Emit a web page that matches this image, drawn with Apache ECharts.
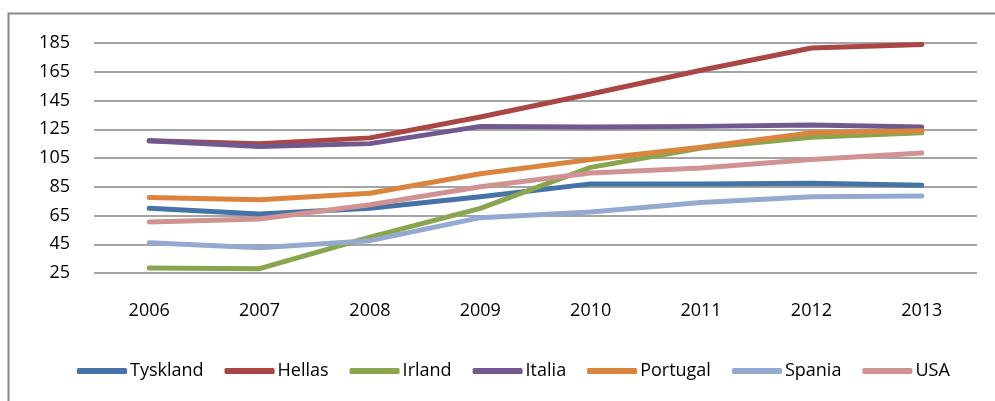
<!DOCTYPE html>
<html>
<head>
<meta charset="UTF-8">
<title></title>
<script src="https://cdn.jsdelivr.net/npm/echarts@6/dist/echarts.min.js"></script>
<style>
  html, body { margin: 0; padding: 0; background: #fff; }
  #main { width: 995px; height: 401px; }
</style>
</head>
<body>
<div id="main"></div>
<script>
var years = ['2006', '2007', '2008', '2009', '2010', '2011', '2012', '2013'];
var tyskland = [70, 66, 70, 78, 87, 87, 87.5, 86];
var hellas = [117, 115, 119, 133.5, 149.5, 166, 181.5, 184];
var irland = [28.5, 28, 50, 70, 98.5, 112, 119.5, 122.5];
var italia = [117, 113, 115, 127, 126.5, 127, 128, 126.5];
var portugal = [77.5, 76, 80.5, 94, 104, 112.5, 122.5, 124];
var spania = [46, 42.5, 47.5, 63.5, 67.5, 74, 78, 78.5];
var usa = [60.5, 62.5, 72.5, 85, 94.5, 98, 104, 108.5];

var names = ['Tyskland', 'Hellas', 'Irland', 'Italia', 'Portugal', 'Spania', 'USA'];
var values = [tyskland, hellas, irland, italia, portugal, spania, usa];
var colors = ['#4572A7', '#AA4643', '#89A54E', '#71588F', '#DB843D', '#93A9CF', '#D19392'];

var font = 'Open Sans';
var chart = echarts.init(document.getElementById('main'));

var series = [];
for (var i = 0; i < names.length; i++) {
  series.push({
    name: names[i],
    type: 'line',
    data: values[i],
    symbol: 'none',
    lineStyle: { width: 5, color: colors[i], cap: 'round', join: 'round' },
    itemStyle: { color: colors[i] }
  });
}

chart.setOption({
  animation: false,
  graphic: [{
    type: 'rect',
    shape: { x: 8.5, y: 13.5, width: 1000, height: 400 },
    style: { fill: 'none', stroke: '#8a8a8a', lineWidth: 2 }
  }],
  grid: { left: 94, right: 18, top: 43, bottom: 128 },
  legend: {
    bottom: 16,
    left: 72,
    icon: 'roundRect',
    itemWidth: 50,
    itemHeight: 6,
    itemGap: 21,
    textStyle: { fontFamily: font, fontSize: 18, color: '#000', padding: [0, 0, 0, -2] },
    data: names
  },
  xAxis: {
    type: 'category',
    data: years,
    boundaryGap: true,
    axisLine: { show: false },
    axisTick: { show: false },
    axisLabel: { fontFamily: font, fontSize: 18, color: '#000', margin: 29 }
  },
  yAxis: {
    type: 'value',
    min: 25,
    max: 185,
    interval: 20,
    axisLine: { show: false },
    axisTick: { show: false },
    axisLabel: { fontFamily: font, fontSize: 18, color: '#000', margin: 24 },
    splitLine: { lineStyle: { color: '#868686', width: 1.5 } }
  },
  series: series
});
</script>
</body>
</html>
